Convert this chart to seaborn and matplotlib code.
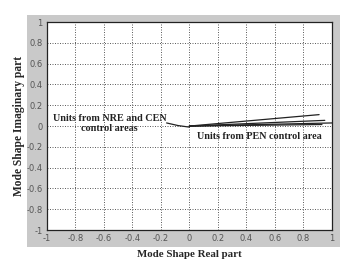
import matplotlib
matplotlib.use("Agg")
import matplotlib.pyplot as plt
from matplotlib.patches import Rectangle
import seaborn as sns
import pandas as pd

# Mode shape vectors (real, imaginary)
nre_real = [0.0, -0.08, -0.16]
nre_imag = [-0.01, 0.005, 0.03]

pen_ids = ["p1", "p2", "p3", "p4"]
pen_end_real = [0.91, 0.95, 1.0, 0.93]
pen_end_imag = [0.11, 0.055, 0.03, 0.015]

ticks = [-1, -0.8, -0.6, -0.4, -0.2, 0, 0.2, 0.4, 0.6, 0.8, 1]
tick_labels = ["-1", "-0.8", "-0.6", "-0.4", "-0.2", "0", "0.2", "0.4", "0.6", "0.8", "1"]

rows = []
for i, (r, im) in enumerate(zip(nre_real, nre_imag)):
    rows.append({"unit": "nre", "order": i, "real": r, "imag": im})
for uid, r, im in zip(pen_ids, pen_end_real, pen_end_imag):
    rows.append({"unit": uid, "order": 0, "real": 0.0, "imag": 0.0})
    rows.append({"unit": uid, "order": 1, "real": r, "imag": im})
df = pd.DataFrame(rows)

sns.set_style("white")
plt.rcParams["font.family"] = ["DejaVu Sans"]

fig = plt.figure(figsize=(3.55, 2.72), dpi=100)
fig.patch.set_facecolor("white")
# grey matlab-style figure panel
fig.patches.append(Rectangle((0.076, 0.092), 0.882, 0.853, transform=fig.transFigure,
                             facecolor="#c9c9c9", edgecolor="none", zorder=-10))
ax = fig.add_axes([0.132, 0.154, 0.803, 0.765])
ax.set_facecolor("white")

sns.lineplot(data=df, x="real", y="imag", units="unit", estimator=None, sort=False,
             color="#222222", linewidth=0.9, ax=ax)

ax.set_xlim(-1, 1)
ax.set_ylim(-1, 1)
ax.set_xticks(ticks)
ax.set_xticklabels(tick_labels)
ax.set_yticks(ticks)
ax.set_yticklabels(tick_labels)
ax.tick_params(labelsize=6, colors="#555555", length=2, pad=3, direction="in")
ax.grid(True, linestyle=(0, (1.2, 1.8)), color="#444444", linewidth=0.6)
for s in ax.spines.values():
    s.set_color("#222222")
    s.set_linewidth(0.9)

serif = ["Liberation Serif", "DejaVu Serif"]
ax.set_xlabel("Mode Shape Real part", family=serif, fontweight="bold", fontsize=7.8, labelpad=5)
ax.set_ylabel("Mode Shape Imaginary part", family=serif, fontweight="bold", fontsize=8.3, labelpad=1)

ax.text(-0.56, 0.025, "Units from NRE and CEN\ncontrol areas", family=serif, fontweight="bold",
        fontsize=7.3, ha="center", va="center", color="#222222", linespacing=1.25)
ax.text(0.49, -0.1, "Units from PEN control area", family=serif, fontweight="bold",
        fontsize=7.3, ha="center", va="center", color="#222222")

fig.savefig("out.png", dpi=100)
